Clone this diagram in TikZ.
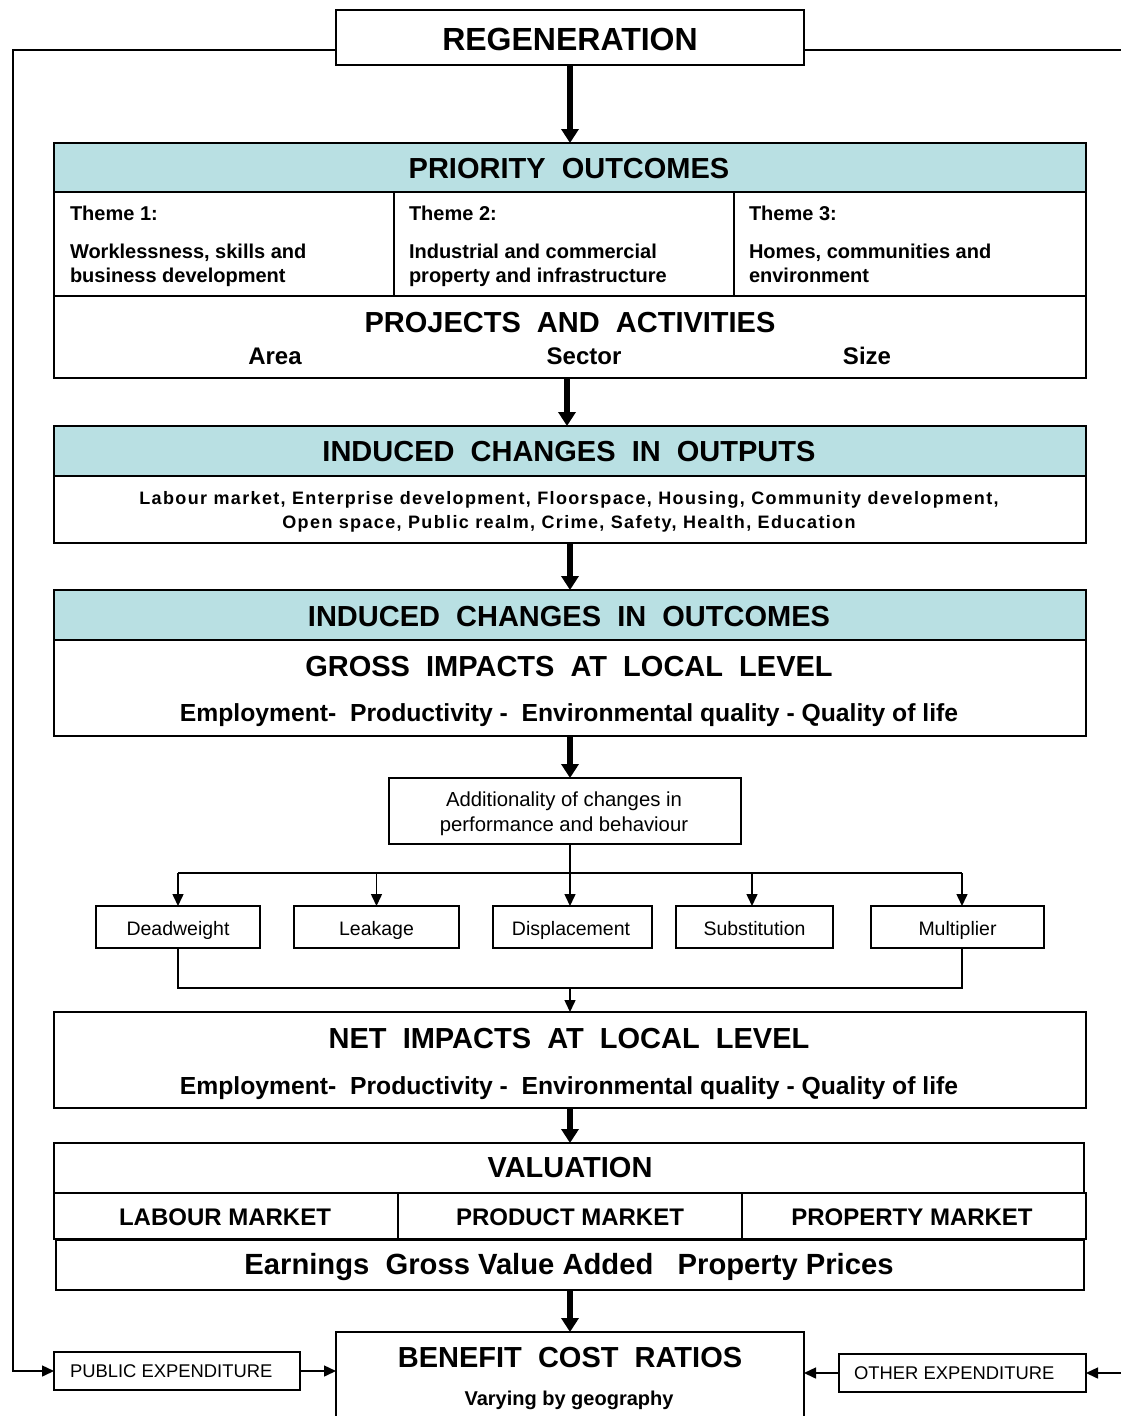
\documentclass[tikz,border=0pt]{standalone}
\usepackage{fontspec}
\setmainfont{Liberation Sans}
\usetikzlibrary{arrows.meta}
\definecolor{hdr}{RGB}{185,224,227}
\begin{document}
\begin{tikzpicture}[x=1pt,y=-1pt,
  box/.style={draw=black, line width=1.5pt, inner sep=0pt, outer sep=0pt},
  hbox/.style={box, fill=hdr},
  tx/.style={inner sep=0pt, outer sep=0pt, text depth=0pt},
  h32/.style={tx, font=\fontsize{32}{38}\selectfont\bfseries, text height=22.9pt},
  h29/.style={tx, font=\fontsize{29}{34}\selectfont\bfseries, text height=20.8pt},
  h30/.style={tx, font=\fontsize{29.2}{35}\selectfont\bfseries, text height=21pt},
  b24/.style={tx, font=\fontsize{24}{28}\selectfont\bfseries, text height=17.2pt},
  emp/.style={tx, font=\fontsize{24.7}{29}\selectfont\bfseries, text height=17.7pt},
  b20/.style={tx, font=\fontsize{20}{24}\selectfont\bfseries, text height=14.3pt},
  lst/.style={tx, font=\fontsize{18}{22}\selectfont\bfseries\addfontfeature{LetterSpace=7.6}, text height=12.9pt},
  r20/.style={tx, font=\fontsize{20.3}{24}\selectfont, text height=14.5pt},
  r19/.style={tx, font=\fontsize{19.5}{23}\selectfont, text height=14pt},
  r18/.style={tx, font=\fontsize{18.4}{22}\selectfont, text height=13.2pt},
  bigarrow/.style={line width=6pt, -{Triangle[width=17pt,length=14pt]}},
  thinline/.style={line width=1.5pt},
  thinarrow/.style={line width=1.5pt, -{Triangle[width=11pt,length=12pt]}}
]
\useasboundingbox (0,0) rectangle (1121,1416);

% ---------- boxes ----------
\node[box, minimum width=468pt, minimum height=55pt] (reg) at (570,37.5) {};
\node[hbox, minimum width=1032pt, minimum height=49pt] (phdr) at (570,167.5) {};
\node[box, minimum width=340pt, minimum height=104pt] (t1) at (224,244) {};
\node[box, minimum width=340pt, minimum height=104pt] (t2) at (564,244) {};
\node[box, minimum width=352pt, minimum height=104pt] (t3) at (910,244) {};
\node[box, minimum width=1032pt, minimum height=82pt] (proj) at (570,337) {};
\node[hbox, minimum width=1032pt, minimum height=50pt] (ohdr) at (570,451) {};
\node[box, minimum width=1032pt, minimum height=67pt] (olist) at (570,509.5) {};
\node[hbox, minimum width=1032pt, minimum height=50pt] (chdr) at (570,615) {};
\node[box, minimum width=1032pt, minimum height=96pt] (gross) at (570,688) {};
\node[box, minimum width=352pt, minimum height=66pt] (add) at (565,811) {};
\node[box, minimum width=164pt, minimum height=42pt] (dw) at (178,927) {};
\node[box, minimum width=165pt, minimum height=42pt] (lk) at (376.5,927) {};
\node[box, minimum width=159pt, minimum height=42pt] (dp) at (572.5,927) {};
\node[box, minimum width=157pt, minimum height=42pt] (sb) at (754.5,927) {};
\node[box, minimum width=173pt, minimum height=42pt] (mp) at (957.5,927) {};
\node[box, minimum width=1032pt, minimum height=96pt] (net) at (570,1060) {};
\node[box, minimum width=1030pt, minimum height=50pt] (val) at (569,1168) {};
\node[box, minimum width=344pt, minimum height=46pt] (lm) at (226,1216) {};
\node[box, minimum width=344pt, minimum height=46pt] (pm) at (570,1216) {};
\node[box, minimum width=344pt, minimum height=46pt] (ppm) at (914,1216) {};
\node[box, minimum width=1028pt, minimum height=50pt] (earn) at (570,1265) {};
\node[box, minimum width=468pt, minimum height=108pt] (bcr) at (570,1386) {};
\node[box, minimum width=246pt, minimum height=38pt] (pub) at (177,1371) {};
\node[box, minimum width=247pt, minimum height=38pt] (oth) at (962.5,1373) {};

% ---------- texts ----------
\node[h32] (regt) at (570,39) {REGENERATION};
\node[h29] (pht) at (569,168) {PRIORITY\ \ OUTCOMES};
\node[b20, anchor=west] (t1a) at (70,213) {Theme 1:};
\node[b20, anchor=west] (t1b) at (70,251) {Worklessness, skills and};
\node[b20, anchor=west] (t1c) at (70,275) {business development};
\node[b20, anchor=west] (t2a) at (409,213) {Theme 2:};
\node[b20, anchor=west] (t2b) at (409,251) {Industrial and commercial};
\node[b20, anchor=west] (t2c) at (409,275) {property and infrastructure};
\node[b20, anchor=west] (t3a) at (749,213) {Theme 3:};
\node[b20, anchor=west] (t3b) at (749,251) {Homes, communities and};
\node[b20, anchor=west] (t3c) at (749,275) {environment};
\node[h29] (pjt) at (570,322) {PROJECTS\ \ AND\ \ ACTIVITIES};
\node[b24] (area) at (275,356) {Area};
\node[b24] (sect) at (584,356) {Sector};
\node[b24] (size) at (867,356) {Size};
\node[h29] (oht) at (569,451) {INDUCED\ \ CHANGES\ \ IN\ \ OUTPUTS};
\node[lst] (ol1) at (569,498) {Labour market, Enterprise development, Floorspace, Housing, Community development,};
\node[lst] (ol2) at (569,522) {Open space, Public realm, Crime, Safety, Health, Education};
\node[h29] (cht) at (569,616) {INDUCED\ \ CHANGES\ \ IN\ \ OUTCOMES};
\node[h29] (grt) at (569,666) {GROSS\ \ IMPACTS\ \ AT\ \ LOCAL\ \ LEVEL};
\node[emp] (gre) at (569,713) {Employment-\ \ Productivity -\ \ Environmental quality - Quality of life};
\node[r20] (ad1) at (564,799) {Additionality of changes in};
\node[r20] (ad2) at (564,824) {performance and behaviour};
\node[r19] (dwt) at (178,928) {Deadweight};
\node[r19] (lkt) at (376.5,928) {Leakage};
\node[r19] (dpt) at (571,928) {Displacement};
\node[r19] (sbt) at (754.5,928) {Substitution};
\node[r19] (mpt) at (957.5,928) {Multiplier};
\node[h29] (ntt) at (569,1038) {NET\ \ IMPACTS\ \ AT\ \ LOCAL\ \ LEVEL};
\node[emp] (nte) at (569,1086) {Employment-\ \ Productivity -\ \ Environmental quality - Quality of life};
\node[h29] (vlt) at (570,1167) {VALUATION};
\node[b24] (lmt) at (225,1217) {LABOUR MARKET};
\node[b24] (pmt) at (570,1217) {PRODUCT MARKET};
\node[b24] (ppt) at (912,1217) {PROPERTY MARKET};
\node[h30] (ert) at (569,1264) {Earnings\ \ Gross Value Added\ \ \ Property Prices};
\node[h29] (bct) at (570,1357) {BENEFIT\ \ COST\ \ RATIOS};
\node[b20] (bcv) at (569,1398) {Varying by geography};
\node[r18, anchor=west] (pubt) at (70,1371) {PUBLIC EXPENDITURE};
\node[r18, anchor=west] (otht) at (854,1373) {OTHER EXPENDITURE};

% ---------- thick arrows ----------
\draw[bigarrow] (reg.south) -- (phdr.north);
\draw[bigarrow] ([xshift=-3pt]proj.south) -- ([xshift=-3pt]ohdr.north);
\draw[bigarrow] (olist.south) -- (chdr.north);
\draw[bigarrow] (gross.south) -- (gross.south |- add.north);
\draw[bigarrow] (net.south) -- (net.south |- val.north);
\draw[bigarrow] (earn.south) -- (bcr.north);

% ---------- additionality tree ----------
\coordinate (sp) at (570,873);
\coordinate (hl) at (178,873);
\coordinate (hr) at (962,873);
\draw[thinline] (sp |- add.south) -- (sp);
\draw[thinline] (hl) -- (hr);
\draw[thinarrow] (hl) -- (dw.north);
\draw[thinarrow] (lk.north |- hl) -- (lk.north);
\draw[thinarrow] (sp) -- (sp |- dp.north);
\draw[thinarrow] (752,873) -- (752,906);
\draw[thinarrow] (hr) -- (hr |- mp.north);
\coordinate (bl) at (178,988);
\coordinate (br) at (962,988);
\draw[thinline] (dw.south) -- (bl) -- (br) -- (br |- mp.south);
\draw[thinarrow] (sp |- bl) -- (sp |- net.north);

% ---------- expenditure loop ----------
\coordinate (lt) at (13,50);
\coordinate (rt) at (1121,50);
\coordinate (rb) at (1121,1373);
\draw[thinarrow] (reg.west |- lt) -- (lt) -- (lt |- pub.west) -- (pub.west);
\draw[thinline] (reg.east |- rt) -- (rt);
\draw[thinarrow] (pub.east) -- (bcr.west |- pub.east);
\draw[thinarrow] (rb) -- (oth.east);
\draw[thinarrow] (oth.west) -- (bcr.east |- oth.west);
\end{tikzpicture}
\end{document}
